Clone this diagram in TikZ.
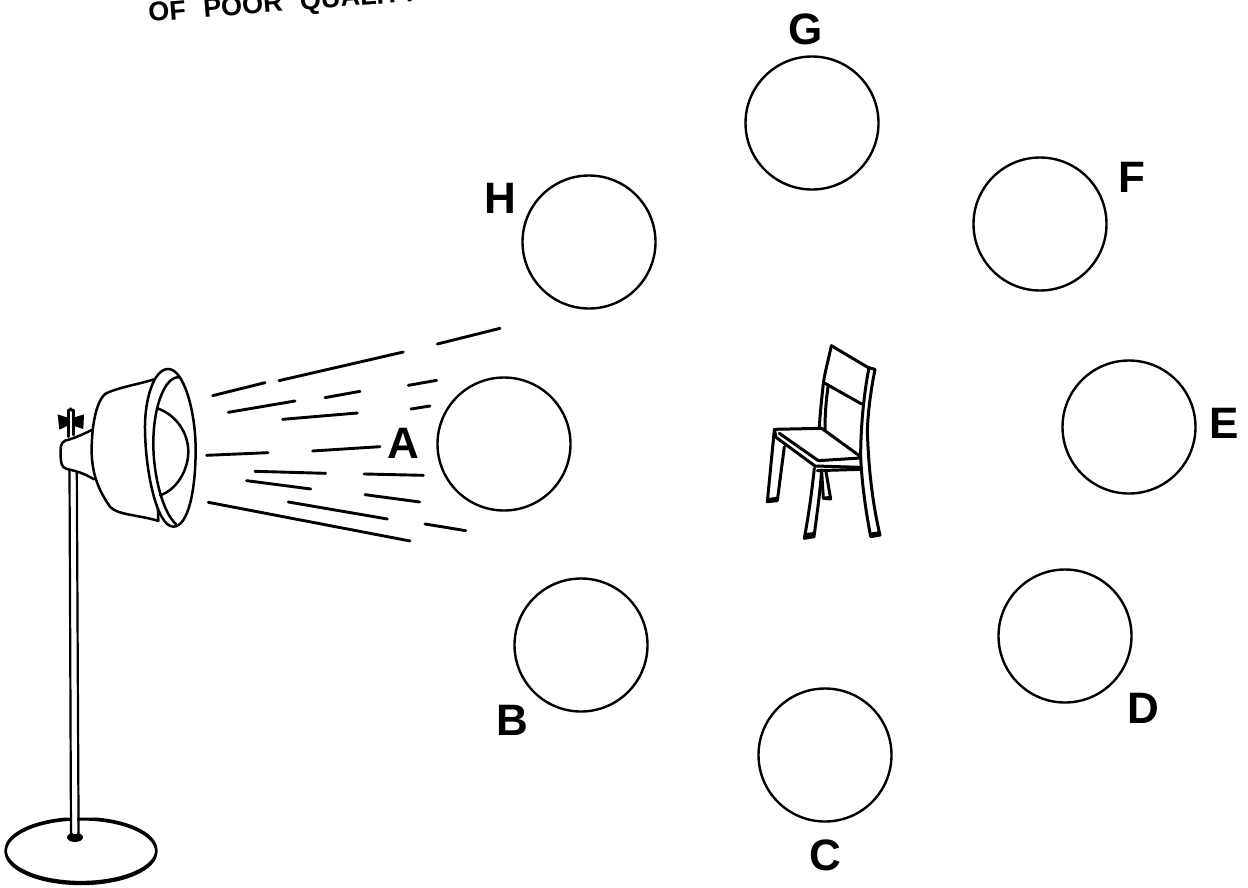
\documentclass[tikz,border=0pt]{standalone}
\usepackage{fontspec}
\setmainfont{Liberation Sans}
\tikzset{
  spot/.style={circle,draw=black,line width=2.4pt,inner sep=0pt,minimum size=133pt},
  lab/.style={font=\fontsize{44}{44}\selectfont\bfseries,text=black,inner sep=0pt},
  ray/.style={line width=2.9pt,line cap=round},
  ink/.style={line width=1.7pt,line cap=round,line join=round},
  inkb/.style={line width=2.5pt,line cap=round,line join=round},
  inkc/.style={line width=3pt,line cap=round,line join=round}
}
\begin{document}
\begin{tikzpicture}[x=1pt,y=-1pt]
\useasboundingbox (0,0) rectangle (1248,887);
\fill[white] (0,0) rectangle (1248,887);
\begin{scope}
\clip (0,0) rectangle (1248,887);
\node[rotate=4.5,anchor=base west,inner sep=0pt,font=\fontsize{27}{27}\selectfont\bfseries] (notetext) at (149,22) {OF\hspace{10pt} POOR\hspace{10pt} QUALITY};
\end{scope}
% circles
\node[spot] (G) at (812,123) {};
\node[spot] (F) at (1040,224) {};
\node[spot] (H) at (589,242) {};
\node[spot] (A) at (504,444) {};
\node[spot] (E) at (1129,427) {};
\node[spot] (B) at (581,645) {};
\node[spot] (D) at (1065,636) {};
\node[spot] (C) at (825,755) {};
% labels
\node[lab] (lG) at (806,29) {G};
\node[lab] (lF) at (1132,177) {F};
\node[lab] (lH) at (500,198) {H};
\node[lab] (lA) at (403,443) {A};
\node[lab] (lE) at (1224,423) {E};
\node[lab] (lB) at (512,720) {B};
\node[lab] (lD) at (1143,708) {D};
\node[lab] (lC) at (825,855) {C};
% rays (zoom coordinates)
\begin{scope}[shift={(200,320)},x=0.3333pt,y=-0.3333pt]
\foreach \a/\b/\c/\d in {38/227/195/188,237/182/610/96,712/72/900/25,85/277/285/243,375/233/480/214,625/196/710/181,248/298/472/279,633/267/690/258,20/406/204/398,338/393/540/380,165/454/377/460,492/462/670/466,140/482/332/507,495/524/659/546,25/547/630/663,265/546/562/597,675/612/797/632}
  \draw[ray] (\a,\b) -- (\c,\d);
\end{scope}
% stand pole
\draw[line width=2.2pt] (69.5,470) -- (71,836);
\draw[line width=2.2pt] (76.8,470) -- (78.6,836);
% stand base
\begin{scope}[shift={(0,780)},x=0.3333pt,y=-0.3333pt]
\begin{scope}
\clip (0,113) rectangle (216,330) (232,113) rectangle (540,330) (216,130) rectangle (232,330);
\draw[line width=2.3pt] (243,210) ellipse [x radius=226,y radius=96];
\draw[line width=2.4pt] (243,215) ellipse [x radius=226,y radius=97];
\end{scope}
\fill (225,172) ellipse [x radius=24,y radius=14];
\fill[white] (218,148) rectangle (232,163);
\end{scope}
% lamp
\begin{scope}[shift={(0,320)},x=0.3333pt,y=-0.3333pt]
\draw[inkb] (205,270) -- (205,350);
\draw[inkb] (220,270) -- (220,345);
\draw[inkb] (205,275) -- (212,266) -- (220,275);
\fill (173,283) -- (203,293) -- (203,317) -- (178,329) -- cycle;
\fill (252,283) -- (220,293) -- (220,317) -- (250,327) -- cycle;
\draw[inkb,fill=white] (275,330) .. controls (235,350) and (215,357) .. (195,362) .. controls (180,370) and (182,385) .. (182,405) .. controls (182,430) and (185,442) .. (200,447) .. controls (240,455) and (260,465) .. (282,478);
\draw[inkb,fill=white] (462,178) .. controls (420,192) and (350,203) .. (315,222) .. controls (285,250) and (275,330) .. (275,390) .. controls (275,460) and (295,510) .. (330,560) .. controls (350,585) and (420,585) .. (475,603) -- cycle;
\draw[inkb,fill=white] (435,320) .. controls (435,240) and (460,147) .. (505,147) .. controls (550,147) and (587,270) .. (587,390) .. controls (587,510) and (565,620) .. (520,620) .. controls (470,620) and (435,450) .. (435,320) -- cycle;
\draw[inkb] (540,172) .. controls (495,165) and (460,260) .. (460,370) .. controls (460,470) and (490,580) .. (528,612);
\draw[inkb] (472,265) .. controls (530,285) and (565,340) .. (565,395) .. controls (565,450) and (530,510) .. (480,526);
\end{scope}
% chair
\begin{scope}[shift={(740,330)},x=0.3333pt,y=-0.3333pt]
\draw[inkc] (274,47) -- (385,113) -- (405,118);
\draw[inkc] (274,47) .. controls (265,90) and (255,125) .. (250,160) .. controls (245,210) and (240,250) .. (238,295);
\draw[inkc] (265,165) .. controls (258,210) and (255,255) .. (255,300);
\draw[inkc] (255,160) -- (365,222);
\draw[inkc] (405,118) .. controls (395,170) and (385,230) .. (382,300) .. controls (385,400) and (395,510) .. (420,615) -- (392,620) .. controls (375,530) and (365,450) .. (362,380) .. controls (362,300) and (370,200) .. (387,113);
\draw[inkc] (103,298) -- (245,295) -- (362,380);
\draw[inkc] (103,298) -- (108,322) -- (225,408) -- (362,412);
\draw[inkc] (118,310) -- (235,392) -- (362,384);
\draw[inkc] (103,300) -- (82,515) -- (112,512) -- (133,350);
\draw[inkc] (223,415) .. controls (215,490) and (205,560) .. (193,625) -- (222,620) .. controls (230,560) and (240,490) .. (245,420);
\draw[inkc] (245,425) -- (250,505) -- (272,507) -- (258,425);
\draw[inkc] (232,422) -- (362,418);
\fill (80,505) -- (112,500) -- (112,514) -- (80,517) -- cycle;
\fill (193,610) -- (222,606) -- (222,622) -- (192,627) -- cycle;
\fill (392,608) -- (420,603) -- (422,618) -- (392,622) -- cycle;
\fill (245,500) -- (272,498) -- (272,508) -- (248,508) -- cycle;
\end{scope}
\end{tikzpicture}
\end{document}
